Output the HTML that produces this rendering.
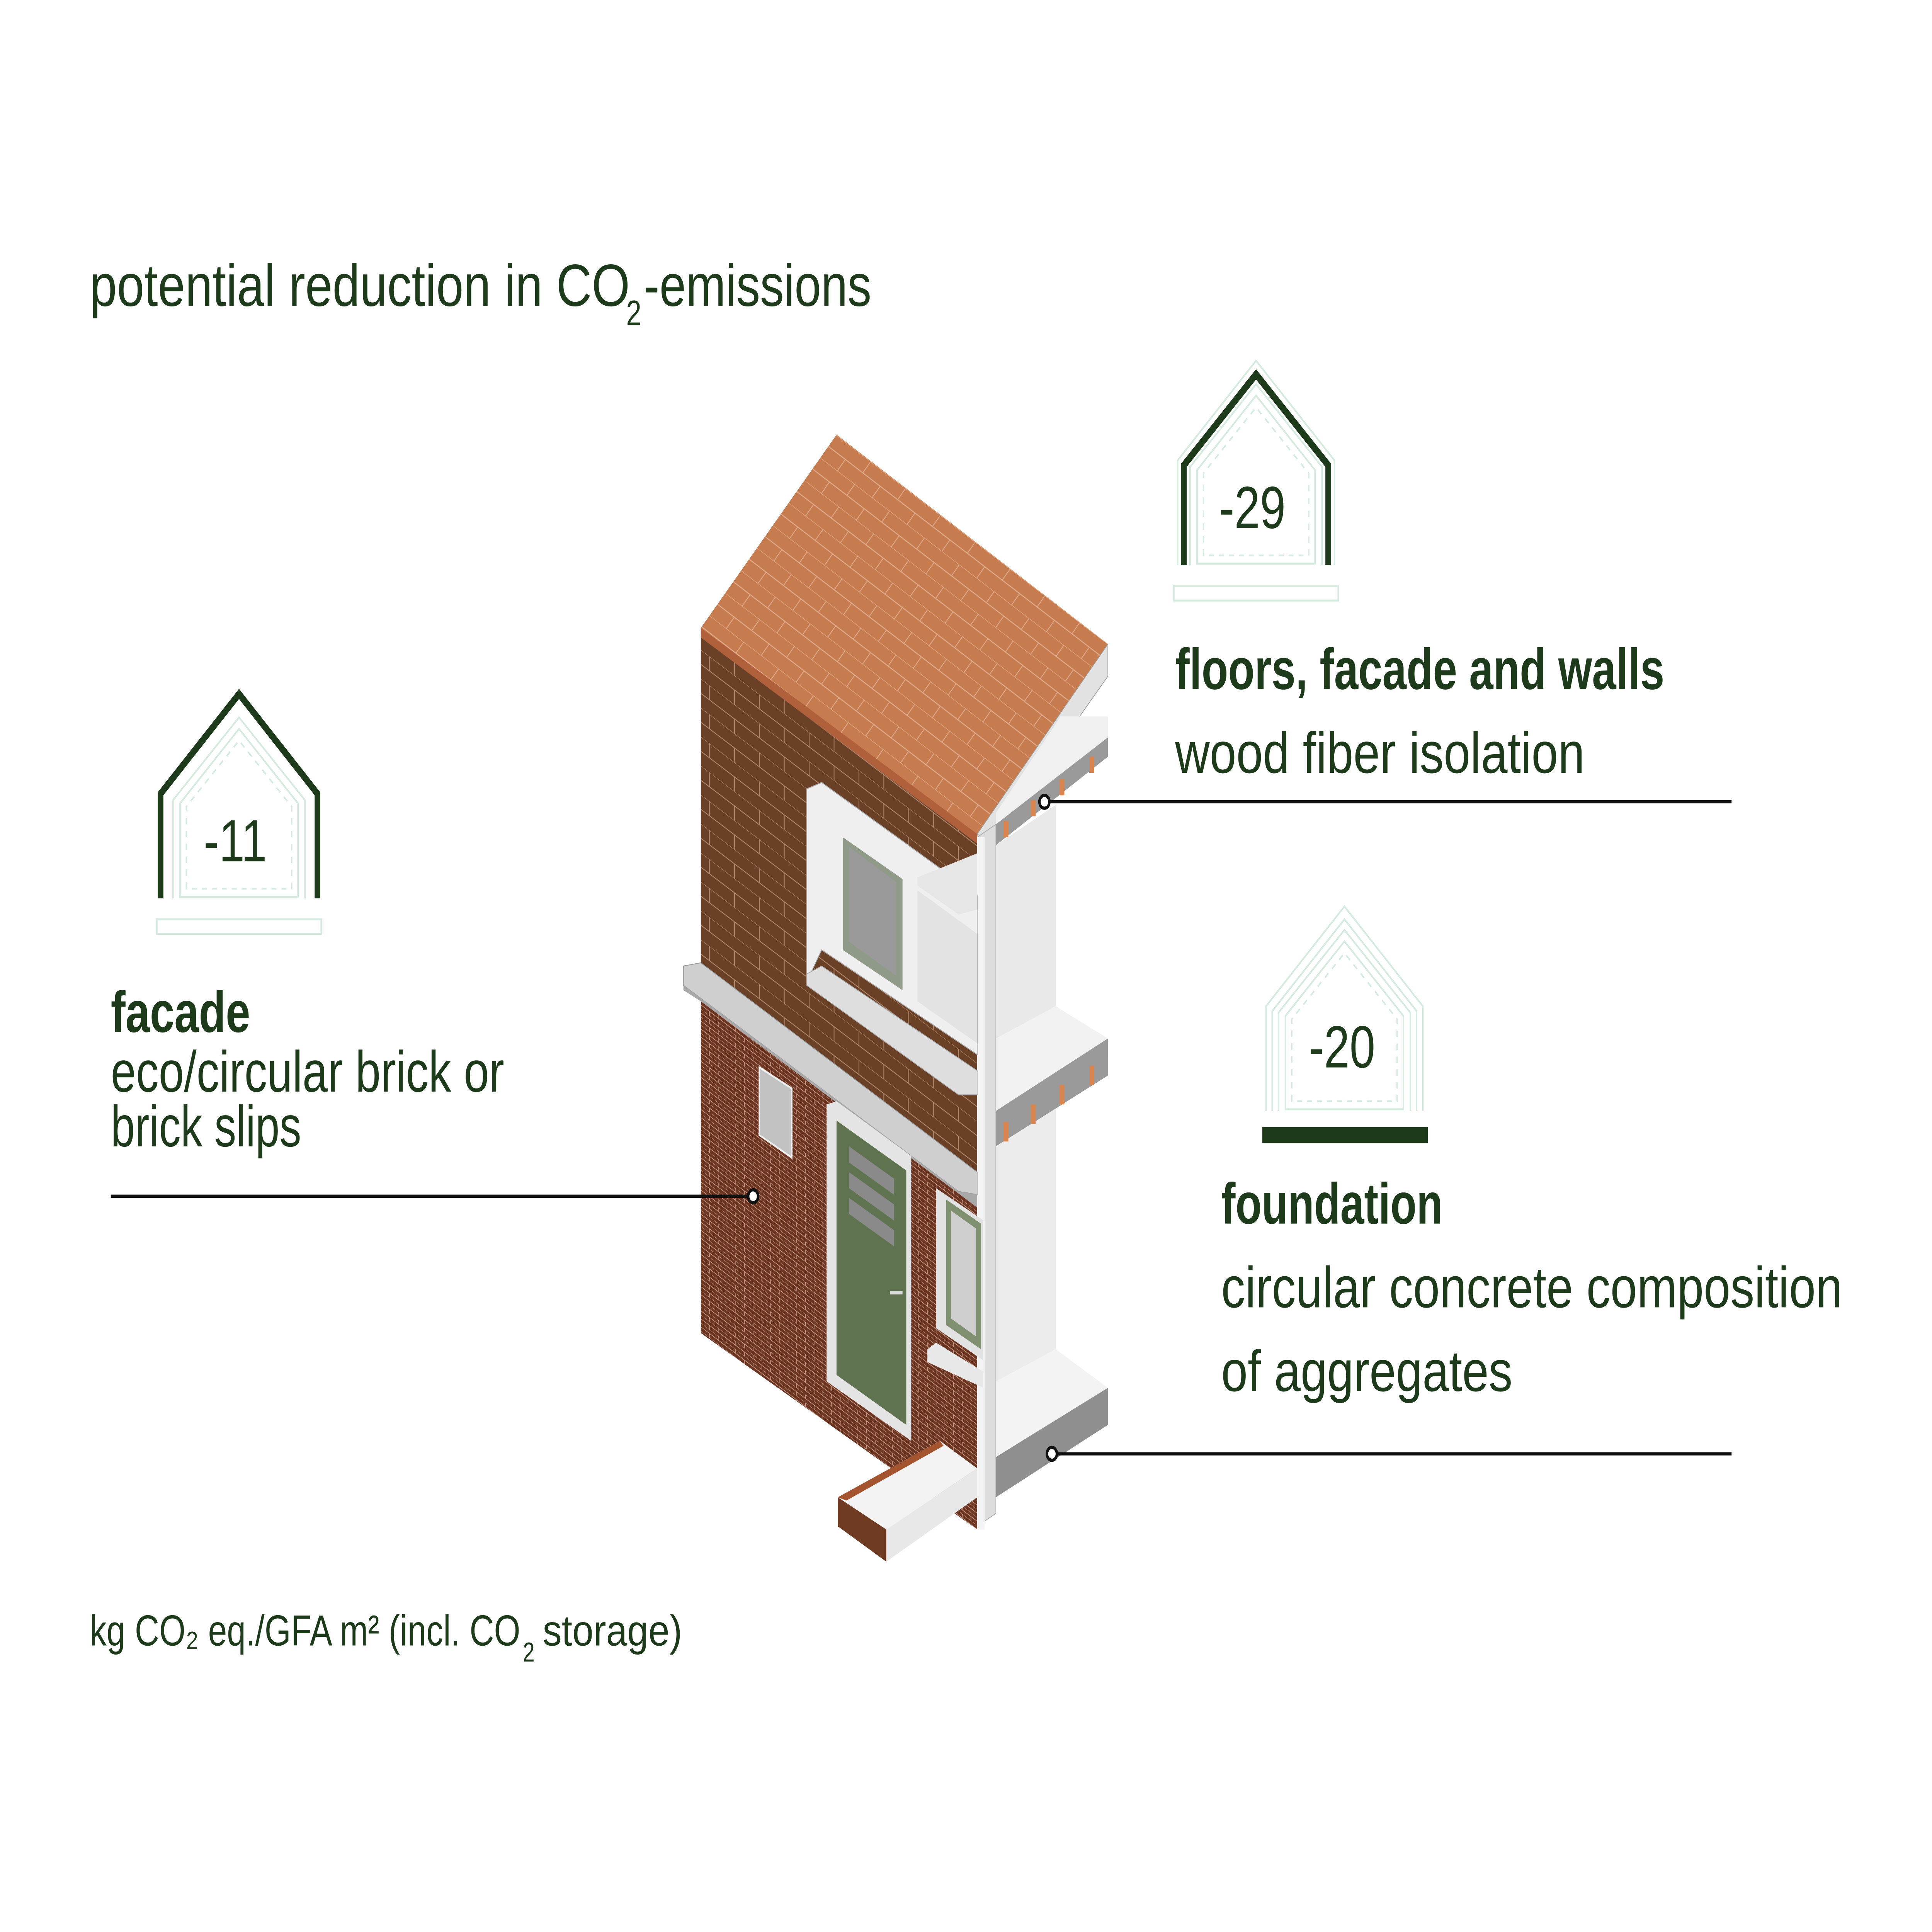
<!DOCTYPE html>
<html><head><meta charset="utf-8"><style>
html,body{margin:0;padding:0;background:#fff;width:100%;height:100%;overflow:hidden;}
svg{display:block;width:100vw;height:100vh;}
text{font-family:"Liberation Sans",sans-serif;fill:#1d3a1b;}
</style></head><body>
<svg viewBox="0 0 1552 1200" preserveAspectRatio="none" xmlns="http://www.w3.org/2000/svg">
<defs>
<pattern id="brickU" width="40" height="18" patternUnits="userSpaceOnUse" patternTransform="skewY(30.5)">
<rect width="40" height="18" fill="#6a4027"/>
<path d="M0 0H40M0 9H40M10 0V9M30 9V18" stroke="#b48a70" stroke-width="0.6" fill="none"/>
</pattern>
<pattern id="brickL" width="14" height="5" patternUnits="userSpaceOnUse" patternTransform="skewY(30.5)">
<rect width="14" height="5" fill="#6b3522"/>
<path d="M0 0H14M0 2.5H14M3 0V2.5M10 2.5V5" stroke="#c79a88" stroke-width="0.45" fill="none"/>
</pattern>
<pattern id="tile" width="28" height="14" patternUnits="userSpaceOnUse" patternTransform="matrix(1,0.595,-0.91,1,0,0)">
<rect width="28" height="14" fill="#c67c4e"/>
<path d="M0 0H28M0 7H28M7 0V7M21 7V14" stroke="#e0ab8c" stroke-width="0.5" fill="none"/>
</pattern>
</defs>

<text x="72" y="190" font-size="37" textLength="434" lengthAdjust="spacingAndGlyphs">potential reduction in CO</text>
<text x="503" y="202" font-size="22">2</text>
<text x="517" y="190" font-size="37" textLength="183" lengthAdjust="spacingAndGlyphs">-emissions</text>

<g transform="translate(192,431)" fill="none">
<path d="M-63 127 V62 L0 0 L63 62 V127" stroke="#1d3a1b" stroke-width="4.5"/>
<path d="M-53 127 V66 L0 14.6 L53 66 V127" stroke="#d5eadf" stroke-width="1.2"/>
<path d="M-47.4 126 V68 L0 21.7 L47.4 68 V126 Z" stroke="#d5eadf" stroke-width="1.2"/>
<path d="M-42.3 121 V70 L0 29 L42.3 70 V121 Z" stroke="#d5eadf" stroke-width="1.1" stroke-dasharray="4 4"/>
<rect x="-66" y="140" width="132" height="9" stroke="#d5eadf" stroke-width="1.2"/>
</g>
<text x="189" y="535" font-size="37" text-anchor="middle">-11</text>

<g transform="translate(1009,224)" fill="none">
<path d="M-63 127 V62 L0 0 L63 62 V127" stroke="#d5eadf" stroke-width="1.2"/>
<path d="M-58 127 V65 L0 8.5 L58 65 V127" stroke="#1d3a1b" stroke-width="4.6"/>
<path d="M-53 127 V66 L0 14.6 L53 66 V127" stroke="#d5eadf" stroke-width="1.2"/>
<path d="M-47.4 126 V68 L0 21.7 L47.4 68 V126 Z" stroke="#d5eadf" stroke-width="1.2"/>
<path d="M-42.3 121 V70 L0 29 L42.3 70 V121 Z" stroke="#d5eadf" stroke-width="1.1" stroke-dasharray="4 4"/>
<rect x="-66" y="140" width="132" height="9" stroke="#d5eadf" stroke-width="1.2"/>
</g>
<text x="1006" y="328" font-size="37" text-anchor="middle">-29</text>

<g transform="translate(1080,563)" fill="none">
<path d="M-63 127 V62 L0 0 L63 62 V127" stroke="#d5eadf" stroke-width="1.2"/>
<path d="M-58 127 V65 L0 8 L58 65 V127" stroke="#d5eadf" stroke-width="1.2"/>
<path d="M-53 127 V66 L0 14.6 L53 66 V127" stroke="#d5eadf" stroke-width="1.2"/>
<path d="M-47.4 126 V68 L0 21.7 L47.4 68 V126 Z" stroke="#d5eadf" stroke-width="1.2"/>
<path d="M-42.3 121 V70 L0 29 L42.3 70 V121 Z" stroke="#d5eadf" stroke-width="1.1" stroke-dasharray="4 4"/>
<rect x="-66" y="137" width="133" height="10" fill="#1d3a1b"/>
</g>
<text x="1078" y="663" font-size="37" text-anchor="middle">-20</text>

<text x="944" y="428" font-size="36" font-weight="bold" textLength="393" lengthAdjust="spacingAndGlyphs">floors, facade and walls</text>
<text x="944" y="480" font-size="36" textLength="329" lengthAdjust="spacingAndGlyphs">wood fiber isolation</text>
<text x="89" y="641" font-size="36" font-weight="bold" textLength="112" lengthAdjust="spacingAndGlyphs">facade</text>
<text x="89" y="678" font-size="36" textLength="316" lengthAdjust="spacingAndGlyphs">eco/circular brick or</text>
<text x="89" y="712" font-size="36" textLength="153" lengthAdjust="spacingAndGlyphs">brick slips</text>
<text x="981" y="760" font-size="36" font-weight="bold" textLength="178" lengthAdjust="spacingAndGlyphs">foundation</text>
<text x="981" y="812" font-size="36" textLength="499" lengthAdjust="spacingAndGlyphs">circular concrete composition</text>
<text x="981" y="864" font-size="36" textLength="234" lengthAdjust="spacingAndGlyphs">of aggregates</text>

<text x="72" y="1022" font-size="27" textLength="346" lengthAdjust="spacingAndGlyphs">kg CO₂ eq./GFA m² (incl. CO</text>
<text x="420" y="1032" font-size="17">2</text>
<text x="436" y="1022" font-size="27" textLength="112" lengthAdjust="spacingAndGlyphs">storage)</text>

<polygon points="563,390 785,518 785,745 563,615" fill="url(#brickU)"/>
<polygon points="563,615 785,745 785,950 563,828" fill="url(#brickL)"/>
<polygon points="563,390 672,270 890,400 785,518" fill="url(#tile)"/>
<polygon points="563,390 785,518 785,524 563,396" fill="#b0603a"/>
<polygon points="785,518 890,400 890,420 790,530" fill="#e2e2e2" stroke="#999" stroke-width="0.5"/>
<polygon points="800,525 848,500 848,640 800,660" fill="#e9e9e9"/>
<polygon points="800,700 848,675 848,860 800,885" fill="#ececec"/>
<polygon points="800,505 852,445 890,445 890,458 800,512" fill="#f0f0f0"/>
<polygon points="800,512 890,458 890,470 800,525" fill="#9a9a9a"/>
<polygon points="800,645 848,625 890,645 800,690" fill="#f2f2f2"/>
<polygon points="800,690 890,645 890,668 800,712" fill="#9a9a9a"/>
<polygon points="800,858 848,838 890,862 800,905" fill="#f3f3f3"/>
<polygon points="800,905 890,862 890,885 800,930" fill="#8f8f8f"/>
<g fill="#d9854f">
<rect x="806" y="510" width="4" height="10"/><rect x="828" y="497" width="4" height="10"/><rect x="851" y="484" width="4" height="10"/><rect x="875" y="470" width="4" height="10"/>
<rect x="806" y="697" width="4" height="12"/><rect x="828" y="686" width="4" height="12"/><rect x="851" y="674" width="4" height="12"/><rect x="875" y="662" width="4" height="12"/>
</g>
<polygon points="785,520 800,512 800,940 785,948" fill="#dcdcdc" stroke="#aaa" stroke-width="0.5"/>
<rect x="785" y="520" width="6" height="430" fill="#f4f4f4"/>
<polygon points="549,600 563,598 785,728 785,742 770,740 549,612" fill="#cfcfcf" stroke="#999" stroke-width="0.5"/>
<polygon points="549,612 770,740 785,742 785,750 563,622 549,615" fill="#a9a9a9"/>
<polygon points="648,490 660,486 785,556 785,655 660,590 648,610" fill="#efefef" stroke="#aaa" stroke-width="0.6"/>
<polygon points="677,520 725,546 725,615 677,590" fill="#8f9a88"/>
<polygon points="682,526 720,548 720,606 682,585" fill="#9a9a9a"/>
<polygon points="737,553 785,580 785,648 737,622" fill="#e3e3e3"/>
<polygon points="648,605 660,600 785,665 785,680 770,680 648,612" fill="#dedede" stroke="#aaa" stroke-width="0.5"/>
<polygon points="737,545 785,530 785,565 770,568 737,550" fill="#e6e6e6"/>
<polygon points="610,663 636,676 636,719 610,705" fill="#c2c2c2" stroke="#eee" stroke-width="1.2"/>
<polygon points="664,686 672,684 732,718 732,895 664,858" fill="#e4e4e4"/>
<polygon points="672,696 728,727 728,885 672,854" fill="#5f7350"/>
<polygon points="682,712 718,732 718,742 682,722" fill="#8a8a8a"/>
<polygon points="682,728 718,748 718,758 682,738" fill="#8a8a8a"/>
<polygon points="682,744 718,764 718,774 682,754" fill="#8a8a8a"/>
<rect x="715" y="802" width="10" height="2" fill="#ddd"/>
<polygon points="752,738 790,758 790,845 752,825" fill="#e2e2e2"/>
<polygon points="760,745 788,760 788,838 760,823" fill="#7f9070"/>
<polygon points="764,752 784,763 784,830 764,819" fill="#cfcfcf"/>
<polygon points="745,838 752,834 790,852 790,862 745,846" fill="#e8e8e8"/>
<polygon points="673,930 755,895 785,912 712,950" fill="#f3f3f3"/>
<polygon points="673,930 712,950 712,970 673,948" fill="#6f3b22"/>
<polygon points="712,950 785,912 785,930 712,970" fill="#e8e8e8"/>
<polygon points="673,930 755,895 758,898 680,932" fill="#a4552f"/>

<g stroke="#111" stroke-width="2" fill="none">
<line x1="843" y1="498" x2="1391" y2="498"/>
<circle cx="839" cy="498" r="4" fill="#fff"/>
<line x1="89" y1="743" x2="601" y2="743"/>
<circle cx="605" cy="743" r="4" fill="#fff"/>
<line x1="849" y1="903" x2="1391" y2="903"/>
<circle cx="845" cy="903" r="4" fill="#fff"/>
</g>
</svg>
</body></html>
